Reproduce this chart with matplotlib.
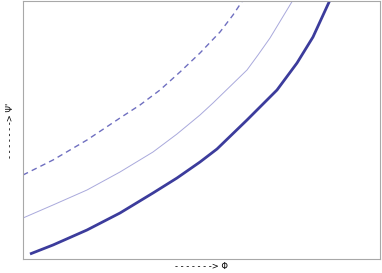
import matplotlib
matplotlib.use("Agg")
import matplotlib.pyplot as plt

thick_x = [7, 30, 64, 97, 130, 154, 177, 194, 224, 254, 274, 290, 307]
thick_y = [5, 14, 29, 46, 66, 81, 97, 110, 139, 169, 196, 222, 259]

thin_x = [0, 30, 64, 97, 130, 154, 177, 190, 224, 235, 247, 270]
thin_y = [41, 54, 69, 87, 107, 125, 144, 156, 189, 204, 221, 259]

dash_x = [0, 30, 64, 97, 117, 137, 157, 177, 197, 210, 220]
dash_y = [84, 99, 119, 141, 154, 169, 187, 206, 227, 244, 259]

fig = plt.figure(figsize=(3.82, 2.73), dpi=100)
ax = fig.add_axes([23 / 382, 14 / 273, 357 / 382, 258 / 273])

ax.plot(dash_x, dash_y, color="#6f6fc0", lw=1.0, ls=(0, (4, 3)))
ax.plot(thin_x, thin_y, color="#a9a9dc", lw=0.7)
ax.plot(thick_x, thick_y, color="#3c3c9c", lw=2.0, solid_capstyle="butt")

ax.set_xlim(0, 357)
ax.set_ylim(0, 258)
ax.set_xticks([])
ax.set_yticks([])
for s in ax.spines.values():
    s.set_color("#a8a8a8")
    s.set_linewidth(0.8)

ax.set_xlabel("- - - - - - -> Φ", fontsize=6, labelpad=2)
ax.set_ylabel("- - - - - - -> Ψ'", fontsize=6, labelpad=6)

fig.savefig("out.png", dpi=100)
